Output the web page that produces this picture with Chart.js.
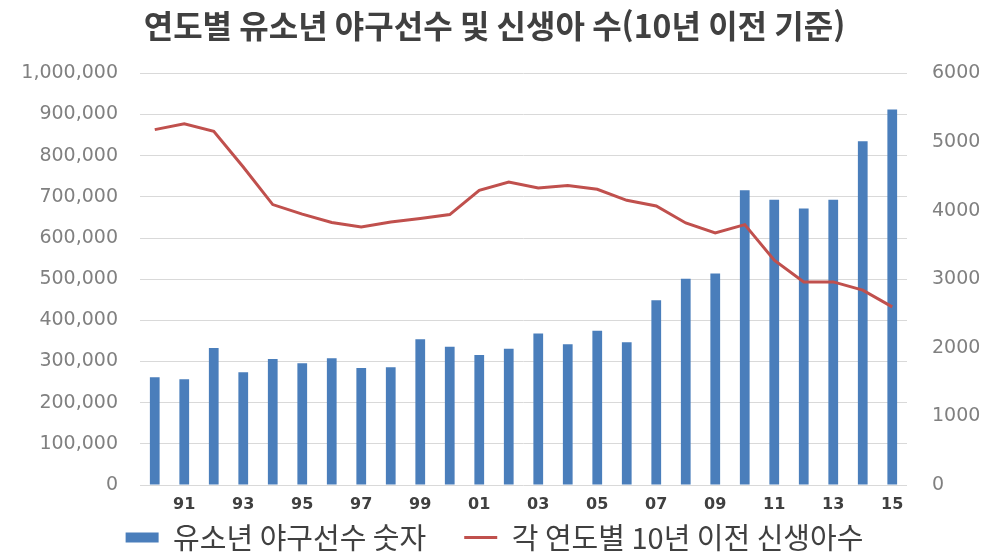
<!DOCTYPE html>
<html lang="ko">
<head>
    <meta charset="UTF-8">
    <script src="https://cdn.jsdelivr.net/npm/chart.js"></script>
    <title>연도별 유소년 야구선수 및 신생아 수</title>
    <style>
        html, body { margin: 0; padding: 0; background: #fff; }
        .chart-container { width: 989px; height: 553px; position: relative; }
    </style>
</head>
<body>
<div class="chart-container">
    <canvas id="myChart"></canvas>
</div>

<script>
    // 연도 (2자리)
    const years = ['90', '91', '92', '93', '94', '95', '96', '97', '98', '99', '00', '01', '02',
                   '03', '04', '05', '06', '07', '08', '09', '10', '11', '12', '13', '14', '15'];

    // 유소년 야구선수 숫자 (왼쪽 축)
    const youthPlayers = [262000, 257000, 333000, 274000, 306000, 296000, 308000, 284000, 286000,
                          354000, 336000, 316000, 331000, 368000, 342000, 375000, 347000, 449000,
                          501000, 514000, 716000, 693000, 672000, 693000, 835000, 912000];

    // 각 연도별 10년 이전 신생아수 (오른쪽 축)
    const births10yAgo = [5180, 5267, 5155, 4636, 4088, 3948, 3827, 3762, 3835, 3884, 3942, 4296, 4417,
                          4330, 4364, 4310, 4150, 4068, 3820, 3674, 3796, 3277, 2961, 2961, 2840, 2597];

    const leftTicks = [0, 1000000, 100000];   // min, max, step
    const rightTicks = [0, 6000, 1000];

    const ctx = document.getElementById('myChart').getContext('2d');
    const chart = new Chart(ctx, {
        type: 'bar',
        data: {
            labels: years,
            datasets: [
                {
                    type: 'bar',
                    label: '유소년 야구선수 숫자',
                    data: youthPlayers,
                    backgroundColor: '#4a7ebb',
                    borderWidth: 0,
                    yAxisID: 'y',
                    barPercentage: 0.33,
                    categoryPercentage: 1,
                    pointStyle: 'rect',
                    order: 1
                },
                {
                    type: 'line',
                    label: '각 연도별 10년 이전 신생아수',
                    data: births10yAgo,
                    borderColor: '#c0504d',
                    backgroundColor: '#c0504d',
                    borderWidth: 3,
                    pointRadius: 0,
                    pointStyle: 'line',
                    tension: 0,
                    yAxisID: 'y1',
                    order: 0
                }
            ]
        },
        options: {
            responsive: true,
            maintainAspectRatio: false,
            animation: false,
            layout: { padding: { top: 7, bottom: 0, left: 0, right: 0 } },
            plugins: {
                title: {
                    display: true,
                    text: '연도별 유소년 야구선수 및 신생아 수(10년 이전 기준)',
                    color: '#404040',
                    font: { family: '"Noto Sans CJK KR"', size: 32, weight: 'bold' },
                    padding: { top: 0, bottom: 28 }
                },
                legend: {
                    position: 'bottom',
                    maxHeight: 68,
                    labels: {
                        usePointStyle: true,
                        pointStyleWidth: 33,
                        boxHeight: 10,
                        padding: 38,
                        color: '#404040',
                        font: { family: '"Noto Sans CJK KR"', size: 29 },
                        sort: (a, b) => a.datasetIndex - b.datasetIndex
                    }
                },
                tooltip: { enabled: false }
            },
            scales: {
                x: {
                    // 0 위치에 붙여서 범례와 공간을 나눠 쓰도록
                    position: { y: 0 },
                    grid: { display: false, drawTicks: false },
                    border: { display: false },
                    ticks: {
                        autoSkip: false,
                        maxRotation: 0,
                        padding: 20,
                        color: '#404040',
                        font: { family: '"DejaVu Sans"', size: 16, weight: 'bold', lineHeight: 0 },
                        callback: function (val, i) { return i % 2 === 1 ? years[i] : ''; }
                    }
                },
                y: {
                    position: 'left',
                    min: leftTicks[0],
                    max: leftTicks[1],
                    grid: { color: '#d9d9d9', drawTicks: false },
                    border: { display: false },
                    afterFit: function (scale) { scale.width = 140; },
                    ticks: {
                        stepSize: leftTicks[2],
                        padding: 22,
                        color: '#808080',
                        font: { family: '"DejaVu Sans"', size: 19 },
                        callback: v => v.toLocaleString('en-US')
                    }
                },
                y1: {
                    position: 'right',
                    min: rightTicks[0],
                    max: rightTicks[1],
                    grid: { display: false, drawTicks: false },
                    border: { display: false },
                    afterFit: function (scale) { scale.width = 82; },
                    ticks: {
                        stepSize: rightTicks[2],
                        padding: 25,
                        color: '#808080',
                        font: { family: '"DejaVu Sans"', size: 19 },
                        callback: v => String(v)
                    }
                }
            }
        }
    });
</script>
</body>
</html>
